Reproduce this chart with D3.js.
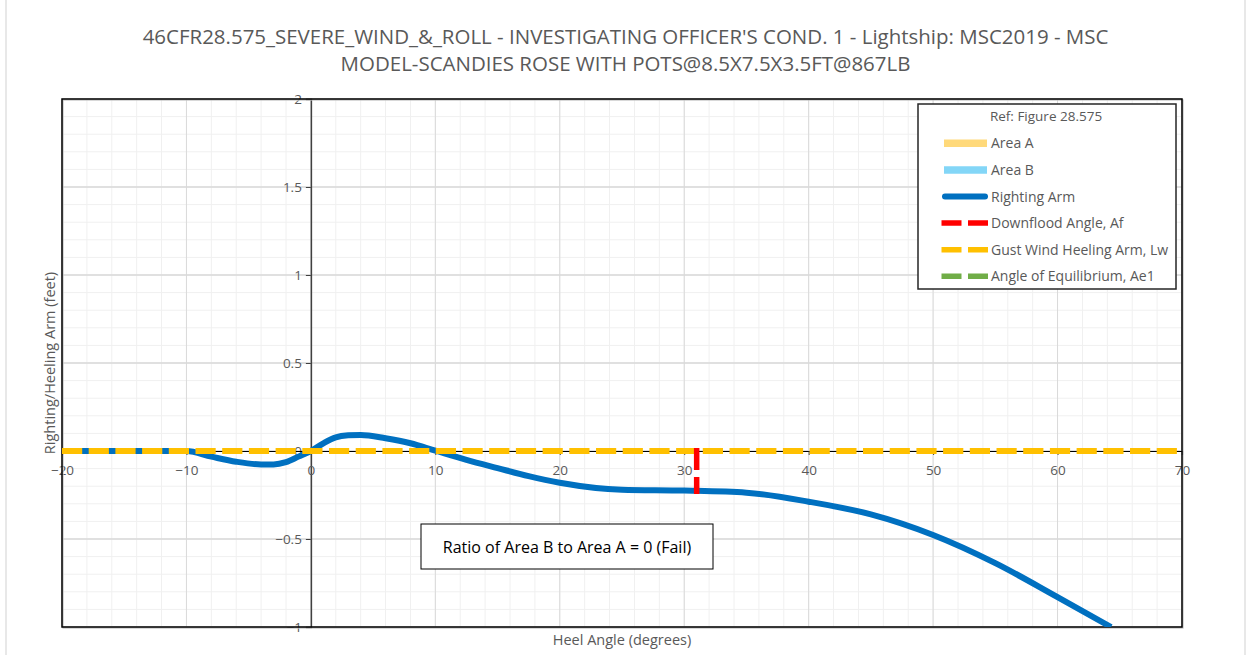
<!DOCTYPE html>
<html>
<head>
<meta charset="utf-8">
<script src="https://cdn.jsdelivr.net/npm/d3@7"></script>
<style>
  body { margin: 0; background: #fff; }
  svg { display: block; font-family: "Open Sans", "Noto Sans", sans-serif; }
</style>
</head>
<body>
<svg id="chart" width="1246" height="655"></svg>
<script>
// ---- data ----
var titleLines = [
  "46CFR28.575_SEVERE_WIND_&_ROLL - INVESTIGATING OFFICER'S COND. 1 - Lightship: MSC2019 - MSC",
  "MODEL-SCANDIES ROSE WITH POTS@8.5X7.5X3.5FT@867LB"
];
var heelAngle   = [-20, -12, -10, -8, -6, -4, -3, -2, -1, 0, 1, 2, 3, 4, 6, 8, 10, 12.5, 15, 17.5, 20, 25, 30, 35, 40, 45, 50, 55, 60, 64.3];
var rightingArm = [0, 0, 0, -0.032, -0.061, -0.076, -0.076, -0.063, -0.032, 0, 0.044, 0.078, 0.089, 0.091, 0.072, 0.044, 0.002, -0.05, -0.097, -0.143, -0.18, -0.22, -0.225, -0.237, -0.288, -0.36, -0.477, -0.637, -0.83, -1.0];
var gustAngle   = [-20, 70];
var gustArm     = [0, 0];
var downfloodAngle = 31;
var xTicks = [-20, -10, 0, 10, 20, 30, 40, 50, 60, 70];
var yTicks = [-1, -0.5, 0, 0.5, 1, 1.5, 2];
var legendItems = ["Area A", "Area B", "Righting Arm", "Downflood Angle, Af", "Gust Wind Heeling Arm, Lw", "Angle of Equilibrium, Ae1"];
var legendColors = ["#ffd97a", "#83d6f7", "#0070c0", "#ff0000", "#ffc000", "#70ad47"];
var legendTitle = "Ref: Figure 28.575";
var ratioText = "Ratio of Area B to Area A = 0 (Fail)";

var svg = d3.select("#chart");
var W = 1246, H = 655;
var L = 62, R = 1182, T = 99, B = 627;

var x = d3.scaleLinear().domain([-20, 70]).range([L, R]);
var y = d3.scaleLinear().domain([-1, 2]).range([B, T]);

// outer frame
svg.append("rect").attr("x", 6).attr("y", -2).attr("width", 1239).attr("height", H + 4)
  .attr("fill", "#fff").attr("stroke", "#d9d9d9").attr("stroke-width", 1.2);

// title
var title = svg.append("g").attr("fill", "#595959");
titleLines.forEach(function(t, i) {
  title.append("text").attr("x", 625.5).attr("y", 44 + i * 26.5)
    .attr("text-anchor", "middle").attr("font-size", 19).text(t);
});
// size the first line to the width it has in the picture
var t0 = title.select("text").node();
var w0 = t0.getComputedTextLength();
title.selectAll("text").attr("font-size", 19 * 966 / w0);

// grid
var g = svg.append("g");
g.selectAll(".xminor").data(d3.range(-20, 70.1, 2)).enter().append("line")
  .attr("x1", d => x(d)).attr("x2", d => x(d)).attr("y1", T).attr("y2", B)
  .attr("stroke", "#f0f0f0").attr("stroke-width", 1);
g.selectAll(".yminor").data(d3.range(-1, 2.01, 0.1)).enter().append("line")
  .attr("x1", L).attr("x2", R).attr("y1", d => y(d)).attr("y2", d => y(d))
  .attr("stroke", "#f0f0f0").attr("stroke-width", 1);
g.selectAll(".xmajor").data(xTicks).enter().append("line")
  .attr("x1", d => x(d)).attr("x2", d => x(d)).attr("y1", T).attr("y2", B)
  .attr("stroke", "#d9d9d9").attr("stroke-width", 1);
g.selectAll(".ymajor").data(yTicks).enter().append("line")
  .attr("x1", L).attr("x2", R).attr("y1", d => y(d)).attr("y2", d => y(d))
  .attr("stroke", "#d9d9d9").attr("stroke-width", 1.3);

// axes through zero
var yAxis = svg.append("g").attr("transform", "translate(" + x(0) + ",0)")
  .call(d3.axisLeft(y).tickValues(yTicks).tickSize(5).tickPadding(4).tickFormat(d3.format("")));
yAxis.select(".domain").attr("stroke", "#404040").attr("stroke-width", 1.5);
yAxis.selectAll(".tick line").attr("stroke", "#404040");
yAxis.selectAll("text").attr("fill", "#595959").attr("font-size", 13.5).attr("font-family", "Open Sans");

var xAxis = svg.append("g").attr("transform", "translate(0," + y(0) + ")")
  .call(d3.axisBottom(x).tickValues(xTicks).tickSize(4).tickPadding(10).tickFormat(d3.format("")));
xAxis.select(".domain").attr("stroke", "#000").attr("stroke-width", 1.2);
xAxis.selectAll(".tick line").attr("stroke", "#404040");
xAxis.selectAll("text").attr("fill", "#595959").attr("font-size", 13.5).attr("font-family", "Open Sans");

// plot border
svg.append("rect").attr("x", L + 1).attr("y", T + 1).attr("width", R - L).attr("height", B - T)
  .attr("fill", "none").attr("stroke", "#bfbfbf").attr("stroke-width", 1.2);
svg.append("rect").attr("x", L).attr("y", T).attr("width", R - L).attr("height", B - T)
  .attr("fill", "none").attr("stroke", "#000").attr("stroke-width", 1.5);

// series
svg.append("clipPath").attr("id", "plotclip").append("rect")
  .attr("x", L).attr("y", T).attr("width", R - L).attr("height", B - T);
var series = svg.append("g").attr("clip-path", "url(#plotclip)");

var line = d3.line().x(d => x(d[0])).y(d => y(d[1])).curve(d3.curveMonotoneX);
series.append("path").datum(d3.zip(heelAngle, rightingArm))
  .attr("d", line).attr("fill", "none").attr("stroke", "#0070c0")
  .attr("stroke-width", 6).attr("stroke-linejoin", "round");

series.append("path").datum(d3.zip(gustAngle, gustArm))
  .attr("d", d3.line().x(d => x(d[0])).y(d => y(d[1])))
  .attr("fill", "none").attr("stroke", "#ffc000").attr("stroke-width", 6)
  .attr("stroke-dasharray", "20.2 6.5");

// downflood angle: from the heeling arm down to the righting arm
var raAtDf = d3.scaleLinear().domain(heelAngle).range(rightingArm)(downfloodAngle);
series.append("line")
  .attr("x1", x(downfloodAngle)).attr("x2", x(downfloodAngle))
  .attr("y1", y(0) - 3).attr("y2", y(raAtDf) + 3)
  .attr("stroke", "#ff0000").attr("stroke-width", 5.5).attr("stroke-dasharray", "22 7");

// axis titles
svg.append("text").attr("transform", "translate(55," + ((T + B) / 2) + ") rotate(-90)")
  .attr("text-anchor", "middle").attr("fill", "#595959").attr("font-size", 14.5)
  .text("Righting/Heeling Arm (feet)");
svg.append("text").attr("x", (L + R) / 2).attr("y", 645)
  .attr("text-anchor", "middle").attr("fill", "#595959").attr("font-size", 14.5)
  .text("Heel Angle (degrees)");

// ratio box
var rb = svg.append("g");
rb.append("rect").attr("x", 421).attr("y", 524).attr("width", 292).attr("height", 45)
  .attr("fill", "#fff").attr("stroke", "#000").attr("stroke-width", 1);
rb.append("text").attr("x", 567).attr("y", 552.5).attr("text-anchor", "middle")
  .attr("fill", "#000").attr("font-size", 16).text(ratioText);

// legend
var lg = svg.append("g");
lg.append("rect").attr("x", 918).attr("y", 104).attr("width", 258).attr("height", 185)
  .attr("fill", "#fff").attr("stroke", "#262626").attr("stroke-width", 1.5);
lg.append("text").attr("x", 1046).attr("y", 121).attr("text-anchor", "middle")
  .attr("fill", "#595959").attr("font-size", 13.5).text(legendTitle);
var ly = d3.scalePoint().domain(legendItems).range([143.3, 276.3]);
legendItems.forEach(function(name, i) {
  var yy = ly(name);
  var s = lg.append("line").attr("x1", 944).attr("x2", 987).attr("y1", yy).attr("y2", yy)
    .attr("stroke", legendColors[i]);
  if (i < 2) s.attr("stroke-width", 7.5).attr("x1", 944);
  else if (i === 2) s.attr("stroke-width", 6).attr("stroke-linecap", "round").attr("x1", 945).attr("x2", 985);
  else s.attr("stroke-width", 5.5).attr("x1", 941.5).attr("x2", 988).attr("stroke-dasharray", "20 6.5");
  lg.append("text").attr("x", 991).attr("y", yy + 5).attr("fill", "#595959")
    .attr("font-size", 14).text(name);
});
</script>
</body>
</html>
